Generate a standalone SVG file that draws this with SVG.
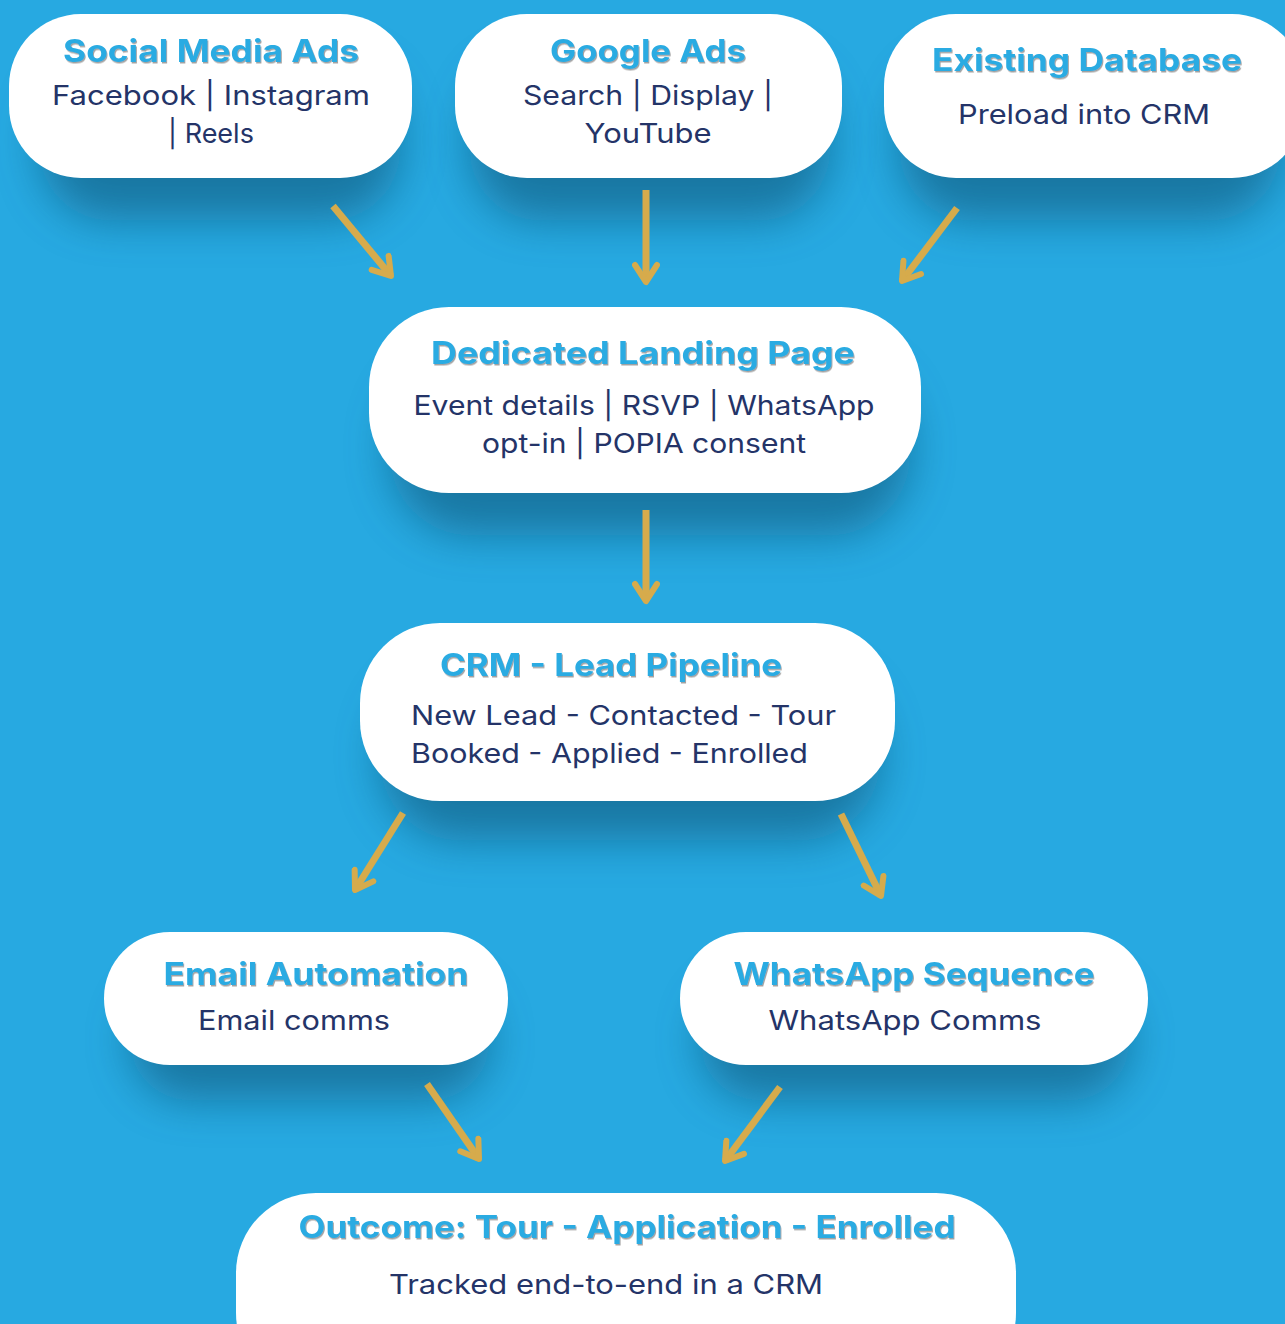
<svg xmlns="http://www.w3.org/2000/svg" width="1285" height="1324" viewBox="0 0 1285 1324">
<defs>
<filter id="sh" x="-30%" y="-60%" width="160%" height="220%"><feGaussianBlur stdDeviation="22"/></filter>
<filter id="ts" x="-5%" y="-20%" width="110%" height="140%"><feDropShadow dx="1" dy="1.5" stdDeviation="0.6" flood-color="#555" flood-opacity="0.55"/></filter>
<marker id="ah" viewBox="-22 -14 26 28" refX="0" refY="0" markerWidth="26" markerHeight="28" markerUnits="userSpaceOnUse" orient="auto">
<path d="M-17,-11 L0,0 L-17,11" fill="none" stroke="#d6ab4c" stroke-width="6" stroke-linecap="round" stroke-linejoin="round"/>
</marker>
<style>
.box{fill:#ffffff}
.shd{fill:#0e4f70;opacity:0.55;filter:url(#sh)}
.t{font-family:Inter,"Noto Sans",sans-serif;font-weight:700;font-size:31px;fill:#29abe2;text-anchor:middle;filter:url(#ts)}
.b{font-family:Inter,"Noto Sans",sans-serif;font-weight:400;font-size:27px;fill:#243468;text-anchor:middle}
.bl{text-anchor:start}
.c{stroke:#d6ab4c;stroke-width:7;fill:none;marker-end:url(#ah)}
</style>
</defs>
<rect width="1285" height="1324" fill="#27a9e1"/>
<g id="shadows">
<rect class="shd" x="40" y="60" width="360" height="160" rx="70"/>
<rect class="shd" x="470" y="60" width="360" height="160" rx="70"/>
<rect class="shd" x="900" y="60" width="380" height="160" rx="70"/>
<rect class="shd" x="390" y="360" width="520" height="175" rx="80"/>
<rect class="shd" x="380" y="670" width="500" height="170" rx="80"/>
<rect class="shd" x="130" y="980" width="360" height="120" rx="60"/>
<rect class="shd" x="700" y="980" width="430" height="120" rx="60"/>
</g>
<g id="connectors">
<line class="c" x1="333" y1="206" x2="391" y2="276"/>
<line class="c" x1="646" y1="190" x2="646" y2="282"/>
<line class="c" x1="957" y1="208" x2="902" y2="281"/>
<line class="c" x1="646" y1="510" x2="646" y2="601"/>
<line class="c" x1="403" y1="813" x2="355" y2="890"/>
<line class="c" x1="841" y1="814" x2="881" y2="896"/>
<line class="c" x1="427" y1="1084" x2="479" y2="1159"/>
<line class="c" x1="780" y1="1087" x2="725" y2="1161"/>
</g>
<g id="social">
<rect class="box" x="9" y="14" width="403" height="164" rx="72"/>
<text class="t" x="211" y="62" textLength="296" lengthAdjust="spacingAndGlyphs">Social Media Ads</text>
<text class="b" x="211" y="105" textLength="318" lengthAdjust="spacingAndGlyphs">Facebook | Instagram</text>
<text class="b" x="211" y="143">| Reels</text>
</g>
<g id="google">
<rect class="box" x="455" y="14" width="387" height="164" rx="72"/>
<text class="t" x="648" y="62" textLength="196" lengthAdjust="spacingAndGlyphs">Google Ads</text>
<text class="b" x="648" y="105" textLength="250" lengthAdjust="spacingAndGlyphs">Search | Display |</text>
<text class="b" x="648" y="143" textLength="127" lengthAdjust="spacingAndGlyphs">YouTube</text>
</g>
<g id="database">
<rect class="box" x="884" y="14" width="420" height="164" rx="72"/>
<text class="t" x="1087" y="71" textLength="310" lengthAdjust="spacingAndGlyphs">Existing Database</text>
<text class="b" x="1084" y="124" textLength="252" lengthAdjust="spacingAndGlyphs">Preload into CRM</text>
</g>
<g id="landing">
<rect class="box" x="369" y="307" width="552" height="186" rx="80"/>
<text class="t" x="643" y="364" textLength="424" lengthAdjust="spacingAndGlyphs">Dedicated Landing Page</text>
<text class="b" x="644" y="415" textLength="461" lengthAdjust="spacingAndGlyphs">Event details | RSVP | WhatsApp</text>
<text class="b" x="644" y="453" textLength="324" lengthAdjust="spacingAndGlyphs">opt-in | POPIA consent</text>
</g>
<g id="crm">
<rect class="box" x="360" y="623" width="535" height="178" rx="80"/>
<text class="t" x="611" y="676" textLength="342" lengthAdjust="spacingAndGlyphs">CRM - Lead Pipeline</text>
<text class="b bl" x="411" y="725" textLength="425" lengthAdjust="spacingAndGlyphs">New Lead - Contacted - Tour</text>
<text class="b bl" x="411" y="763" textLength="397" lengthAdjust="spacingAndGlyphs">Booked - Applied - Enrolled</text>
</g>
<g id="email">
<rect class="box" x="104" y="932" width="404" height="133" rx="66"/>
<text class="t" x="316" y="985" textLength="305" lengthAdjust="spacingAndGlyphs">Email Automation</text>
<text class="b" x="294" y="1030" textLength="192" lengthAdjust="spacingAndGlyphs">Email comms</text>
</g>
<g id="whatsapp">
<rect class="box" x="680" y="932" width="468" height="133" rx="66"/>
<text class="t" x="914" y="985" textLength="361" lengthAdjust="spacingAndGlyphs">WhatsApp Sequence</text>
<text class="b" x="905" y="1030" textLength="273" lengthAdjust="spacingAndGlyphs">WhatsApp Comms</text>
</g>
<g id="outcome">
<rect class="box" x="236" y="1193" width="780" height="200" rx="80"/>
<text class="t" x="627" y="1238" textLength="657" lengthAdjust="spacingAndGlyphs">Outcome: Tour - Application - Enrolled</text>
<text class="b" x="606" y="1294" textLength="434" lengthAdjust="spacingAndGlyphs">Tracked end-to-end in a CRM</text>
</g>
</svg>
